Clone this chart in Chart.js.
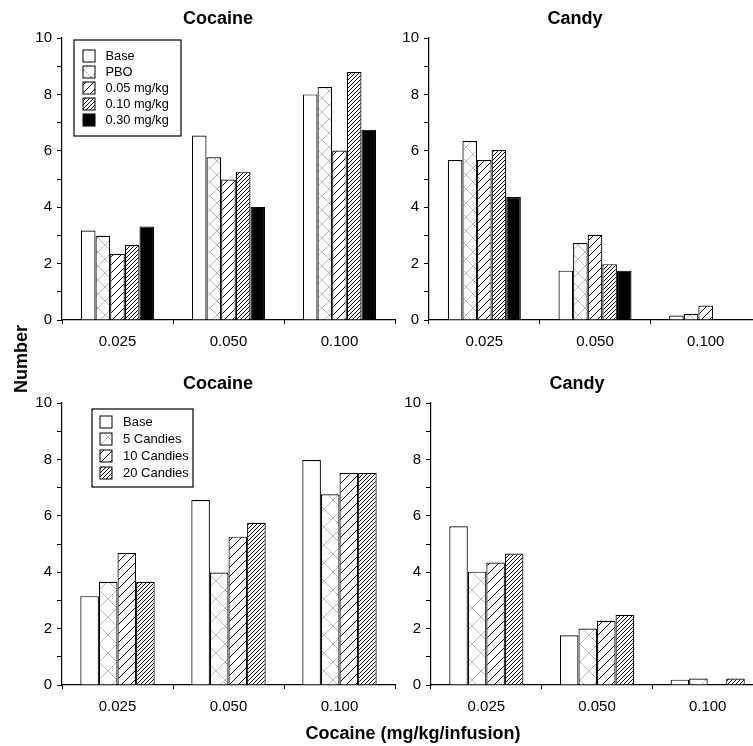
<!DOCTYPE html>
<html>
<head>
<meta charset="utf-8">
<script src="https://cdn.jsdelivr.net/npm/chart.js@4.4.1/dist/chart.umd.min.js"></script>
<style>
  body { margin: 0; background: #fff; }
  #fig { position: relative; width: 753px; height: 746px; overflow: hidden; background: #fff;
         font-family: "Liberation Sans", Arial, sans-serif; color: #000; }
  #fig canvas { position: absolute; }
  .lbl { position: absolute; font-weight: bold; font-size: 18px; height: 22px; line-height: 22px;
         text-align: center; white-space: nowrap; }
</style>
</head>
<body>
<div id="fig">
  <canvas id="pboCocaineChart" width="404" height="360" style="left:0;top:0"></canvas>
  <canvas id="pboCandyChart" width="372" height="360" style="left:389px;top:0"></canvas>
  <canvas id="candyCocaineChart" width="404" height="360" style="left:0;top:365px"></canvas>
  <canvas id="candyCandyChart" width="372" height="360" style="left:391px;top:365px"></canvas>
  <div class="lbl" style="left:-39px;top:348px;width:120px;transform:rotate(-90deg)">Number</div>
  <div class="lbl" style="left:263px;top:722px;width:300px">Cocaine (mg/kg/infusion)</div>
</div>
<script>
const doseLabels = ['0.025', '0.050', '0.100'];

// top row: pretreatment study
const pboNames = ['Base', 'PBO', '0.05 mg/kg', '0.10 mg/kg', '0.30 mg/kg'];
const pboFills = ['none', 'cross', 'sparse', 'dense', 'solid'];
const pboCocaine = [
  [3.17, 6.54, 8.00],
  [2.99, 5.77, 8.26],
  [2.35, 4.98, 6.01],
  [2.66, 5.26, 8.79],
  [3.32, 4.01, 6.75]
];
const pboCandy = [
  [5.67, 1.75, 0.16],
  [6.35, 2.73, 0.22],
  [5.67, 3.02, 0.51],
  [6.03, 1.98, 0],
  [4.36, 1.75, 0]
];

// bottom row: candy pre-feeding study
const candyNames = ['Base', '5 Candies', '10 Candies', '20 Candies'];
const candyFills = ['none', 'cross', 'sparse', 'dense'];
const candyCocaine = [
  [3.15, 6.56, 7.98],
  [3.66, 3.99, 6.76],
  [4.68, 5.26, 7.52],
  [3.66, 5.75, 7.52]
];
const candyCandy = [
  [5.63, 1.76, 0.19],
  [4.02, 2.00, 0.23],
  [4.34, 2.28, 0],
  [4.66, 2.49, 0.23]
];

Chart.defaults.font.family = '"Liberation Sans", Arial, sans-serif';
Chart.defaults.color = '#000';

function makeFill(ctx, kind, sizes) {
  if (kind === 'none') return '#fff';
  if (kind === 'solid') return '#000';
  const size = sizes[kind];
  const c = document.createElement('canvas');
  c.width = size; c.height = size;
  const g = c.getContext('2d');
  g.fillStyle = '#fff';
  g.fillRect(0, 0, size, size);
  g.lineWidth = 1;
  g.beginPath();
  if (kind === 'cross') {
    g.strokeStyle = '#bdbdbd';
    g.moveTo(0, 0); g.lineTo(size, size);
    g.moveTo(0, size); g.lineTo(size, 0);
  } else {
    g.strokeStyle = '#000';
    g.moveTo(0, size); g.lineTo(size, 0);
    g.moveTo(-1, 1); g.lineTo(1, -1);
    g.moveTo(size - 1, size + 1); g.lineTo(size + 1, size - 1);
  }
  g.stroke();
  return ctx.createPattern(c, 'repeat');
}

// legend drawn as a framed box inside the plot area
const boxLegend = {
  id: 'boxLegend',
  afterDraw(chart, args, o) {
    const { ctx, chartArea } = chart;
    const x = chartArea.left + o.x, y = chartArea.top + o.y;
    ctx.save();
    ctx.fillStyle = '#fff';
    ctx.fillRect(x, y, o.w, o.h);
    ctx.strokeStyle = '#000';
    ctx.lineWidth = 1.2;
    ctx.strokeRect(x, y, o.w, o.h);
    ctx.font = o.fontSize + 'px "Liberation Sans", Arial, sans-serif';
    ctx.textBaseline = 'middle';
    chart.data.datasets.forEach((ds, i) => {
      const cy = y + o.first + i * o.step;
      ctx.fillStyle = ds.backgroundColor;
      ctx.fillRect(x + o.sq, cy - 6, 12, 12);
      ctx.lineWidth = 1;
      ctx.strokeRect(x + o.sq, cy - 6, 12, 12);
      ctx.fillStyle = '#000';
      ctx.fillText(ds.label, x + o.tx, cy);
    });
    ctx.restore();
  }
};

function drawPanel(id, title, names, fills, values, cfg) {
  const ctx = document.getElementById(id).getContext('2d');
  const scales = {
    x: {
      afterFit: s => { s.height = 40; },
      border: { color: '#000', width: 1.2 },
      grid: { drawOnChartArea: false, color: '#000', tickLength: 4, offset: true },
      ticks: { color: '#000', padding: 9, font: { size: 15 } }
    },
    y: {
      min: 0,
      max: 10,
      afterFit: s => { s.width = cfg.yWidth; },
      border: { color: '#000', width: 1.2 },
      grid: { drawOnChartArea: false, color: '#000', tickLength: 5 },
      ticks: {
        stepSize: 1,
        padding: 5,
        color: '#000',
        font: { size: 15 },
        callback: v => (v % 2 === 0 ? v : '')
      }
    }
  };
  // empty strip on the right so the title sits where the original has it
  if (cfg.rightGap) {
    scales.gap = {
      type: 'linear',
      position: 'right',
      afterFit: s => { s.width = cfg.rightGap; },
      ticks: { display: false },
      grid: { display: false },
      border: { display: false }
    };
  }
  return new Chart(ctx, {
    type: 'bar',
    data: {
      labels: doseLabels,
      datasets: names.map((name, i) => ({
        label: name,
        data: values[i],
        backgroundColor: makeFill(ctx, fills[i], cfg.tiles),
        borderColor: '#000',
        borderWidth: 1.2,
        barPercentage: 1,
        categoryPercentage: cfg.catPct
      }))
    },
    options: {
      responsive: false,
      animation: false,
      events: [],
      layout: { padding: cfg.padding },
      scales,
      plugins: {
        legend: { display: false },
        tooltip: { enabled: false },
        title: {
          display: true,
          text: title,
          color: '#000',
          font: { size: 18, weight: 'bold' },
          padding: { top: 8, bottom: 8.4 }
        },
        boxLegend: cfg.legend || false
      }
    },
    plugins: [boxLegend]
  });
}

const topTiles = { cross: 14, sparse: 8, dense: 4 };
const bottomTiles = { cross: 18, sparse: 9, dense: 4 };

drawPanel('pboCocaineChart', 'Cocaine', pboNames, pboFills, pboCocaine, {
  tiles: topTiles, catPct: 0.66, yWidth: 28, rightGap: 7, padding: { left: 34, right: 2 },
  legend: { x: 12, y: 2, w: 107, h: 96, sq: 9, tx: 31.5, first: 16, step: 16, fontSize: 12.8 }
});
drawPanel('pboCandyChart', 'Candy', pboNames, pboFills, pboCandy, {
  tiles: topTiles, catPct: 0.66, yWidth: 40, padding: 0
});
drawPanel('candyCocaineChart', 'Cocaine', candyNames, candyFills, candyCocaine, {
  tiles: bottomTiles, catPct: 0.67, yWidth: 28, rightGap: 7, padding: { left: 34, right: 2 },
  legend: { x: 30, y: 6, w: 101, h: 78, sq: 8, tx: 31, first: 13, step: 17, fontSize: 13 }
});
drawPanel('candyCandyChart', 'Candy', candyNames, candyFills, candyCandy, {
  tiles: bottomTiles, catPct: 0.67, yWidth: 40, padding: 0
});
</script>
</body>
</html>
